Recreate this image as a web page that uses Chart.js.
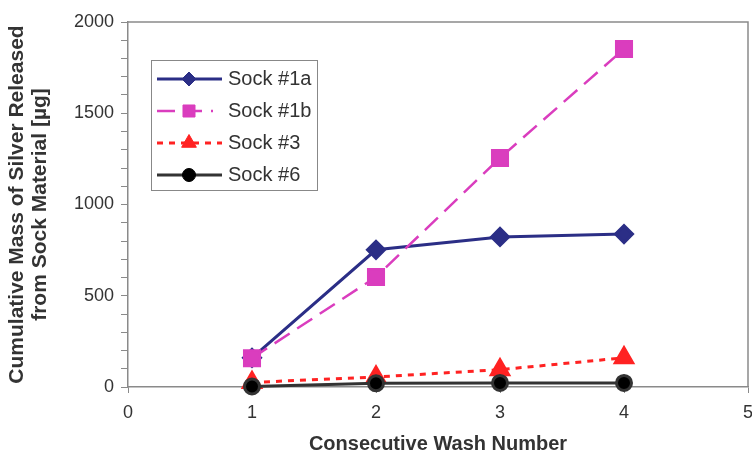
<!DOCTYPE html>
<html>
<head>
<meta charset="utf-8">
<script src="https://cdn.jsdelivr.net/npm/chart.js@4"></script>
<style>
  html, body { margin: 0; padding: 0; background: #fff; }
  #wrap { width: 752px; height: 462px; }
</style>
</head>
<body>
<div id="wrap"><canvas id="chart" width="752" height="462"></canvas></div>
<script>
// wash numbers and cumulative silver released (ug)
const washNumbers = [1, 2, 3, 4];
const sock1a = [160, 752, 822, 838];
const sock1b = [158, 603, 1255, 1852];
const sock3 = [25, 55, 95, 160];
const sock6 = [3, 20, 22, 22];
const seriesLabels = ['Sock #1a', 'Sock #1b', 'Sock #3', 'Sock #6'];

const toPoints = (vals) => vals.map((v, i) => ({ x: washNumbers[i], y: v }));

const FONT = '"Liberation Sans", Arial, sans-serif';

// box around plot area + legend box inside it
const framePlugin = {
  id: 'frame',
  afterDraw(chart) {
    const { ctx, chartArea: a } = chart;
    ctx.save();
    ctx.strokeStyle = '#8a8a8a';
    ctx.lineWidth = 1.5;
    ctx.beginPath();
    ctx.moveTo(a.left, a.top);
    ctx.lineTo(a.right, a.top);
    ctx.lineTo(a.right, a.bottom);
    ctx.stroke();

    // legend
    const lx = 151, ly = 60, lw = 166, lh = 130;
    ctx.fillStyle = '#fff';
    ctx.fillRect(lx, ly, lw, lh);
    ctx.strokeStyle = '#888';
    ctx.lineWidth = 1;
    ctx.strokeRect(lx + 0.5, ly + 0.5, lw, lh);
    const lineEnds = [222, 213, 222, 222];
    const legendRadius = [7, 8.5, 8.5, 6.5];
    chart.data.datasets.forEach((ds, i) => {
      const y = 79 + i * 32;
      ctx.save();
      ctx.strokeStyle = ds.borderColor;
      ctx.lineWidth = ds.borderWidth;
      ctx.setLineDash(ds.borderDash || []);
      ctx.beginPath();
      ctx.moveTo(157, y);
      ctx.lineTo(lineEnds[i], y);
      ctx.stroke();
      ctx.restore();
      ctx.fillStyle = ds.pointBackgroundColor;
      ctx.strokeStyle = ds.pointBackgroundColor;
      Chart.helpers.drawPoint(ctx, {
        pointStyle: ds.pointStyle,
        radius: legendRadius[i],
        borderWidth: 1
      }, 189, y);
      ctx.fillStyle = '#333';
      ctx.font = '20px ' + FONT;
      ctx.textBaseline = 'middle';
      ctx.fillText(ds.label, 228, y);
    });
    ctx.restore();
  }
};

new Chart(document.getElementById('chart'), {
  type: 'line',
  data: {
    datasets: [
      {
        label: seriesLabels[0], data: toPoints(sock1a), order: 3, clip: false,
        borderColor: '#2b2e86', backgroundColor: '#2b2e86', pointBackgroundColor: '#2b2e86',
        borderWidth: 3, pointStyle: 'rectRot', pointRadius: 8.5
      },
      {
        label: seriesLabels[1], data: toPoints(sock1b), order: 2, clip: false,
        borderColor: '#da3dbe', backgroundColor: '#da3dbe', pointBackgroundColor: '#da3dbe',
        borderWidth: 2.5, borderDash: [18, 9], pointStyle: 'rect', pointRadius: 11
      },
      {
        label: seriesLabels[2], data: toPoints(sock3), order: 1, clip: false,
        borderColor: '#ff2222', backgroundColor: '#ff2222', pointBackgroundColor: '#ff2222',
        borderWidth: 3, borderDash: [6, 6], pointStyle: 'triangle', pointRadius: 10
      },
      {
        label: seriesLabels[3], data: toPoints(sock6), order: 0, clip: false,
        borderColor: '#333333', backgroundColor: '#000', pointBackgroundColor: '#000',
        borderWidth: 3, pointStyle: 'circle', pointRadius: 7.5
      }
    ]
  },
  options: {
    responsive: false,
    animation: false,
    layout: { autoPadding: false, padding: { top: 22, right: 4, left: 0, bottom: 0 } },
    plugins: {
      legend: { display: false },
      tooltip: { enabled: false }
    },
    elements: { line: { tension: 0 }, point: { borderWidth: 1 } },
    scales: {
      x: {
        type: 'linear', min: 0, max: 5,
        afterFit: (s) => { s.height = 75; s.paddingRight = 0; s.paddingLeft = 0; },
        border: { color: '#8a8a8a', width: 1.5 },
        grid: { drawOnChartArea: false, tickLength: 6, color: '#8a8a8a' },
        ticks: { stepSize: 1, color: '#333', font: { size: 18, family: FONT }, padding: 9 },
        title: {
          display: true, text: 'Consecutive Wash Number', color: '#333',
          font: { size: 20, weight: 'bold', family: FONT },
          padding: { top: 0, bottom: 6 }
        }
      },
      y: {
        min: 0, max: 2000,
        afterFit: (s) => { s.width = 128; },
        border: { color: '#8a8a8a', width: 1.5 },
        grid: { drawOnChartArea: false, tickLength: 7, color: '#8a8a8a' },
        ticks: {
          stepSize: 100, autoSkip: false, color: '#333', padding: 7,
          font: { size: 18, family: FONT },
          callback: (v) => (v % 500 === 0 ? v : '')
        },
        title: {
          display: true,
          text: ['Cumulative Mass of Silver Released', 'from Sock Material [\u00b5g]'],
          color: '#333',
          font: { size: 21, weight: 'bold', family: FONT, lineHeight: 1.1 },
          padding: { top: 6, bottom: 0 }
        }
      }
    }
  },
  plugins: [framePlugin]
});
</script>
</body>
</html>
